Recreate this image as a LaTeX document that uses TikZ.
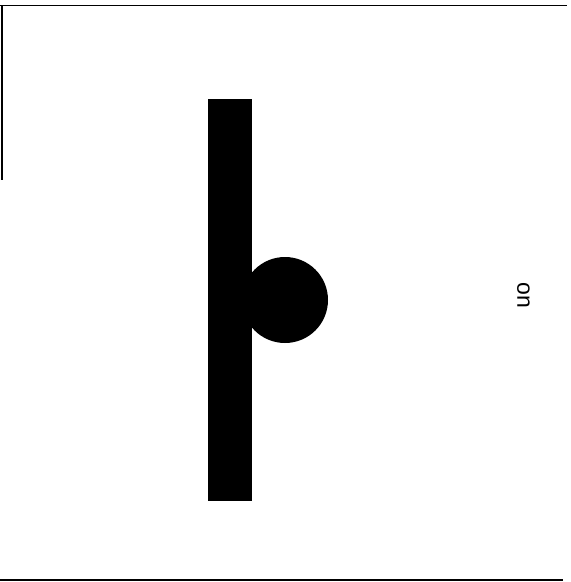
\documentclass[tikz,border=0pt]{standalone}
\usepackage{fontspec}
\setmainfont{Liberation Sans}
\begin{document}
\begin{tikzpicture}[x=1pt,y=-1pt,
  frame/.style={line width=1.6pt, black},
  blk/.style={fill=black, draw=none}]
\useasboundingbox (0,0) rectangle (571,582);
\draw[frame] (0,5.5) -- (567,5.5);
\draw[frame] (0,580) -- (563,580);
\draw[frame] (2,5) -- (2,180);
\fill[blk] (208,99) rectangle (252,501);
\node[blk, circle, minimum size=86pt, inner sep=0pt] (ball) at (285,300) {};
\node[rotate=-90, inner sep=0pt, font=\fontsize{23}{23}\selectfont] (lbl) at (523.5,295) {on};
\end{tikzpicture}
\end{document}
